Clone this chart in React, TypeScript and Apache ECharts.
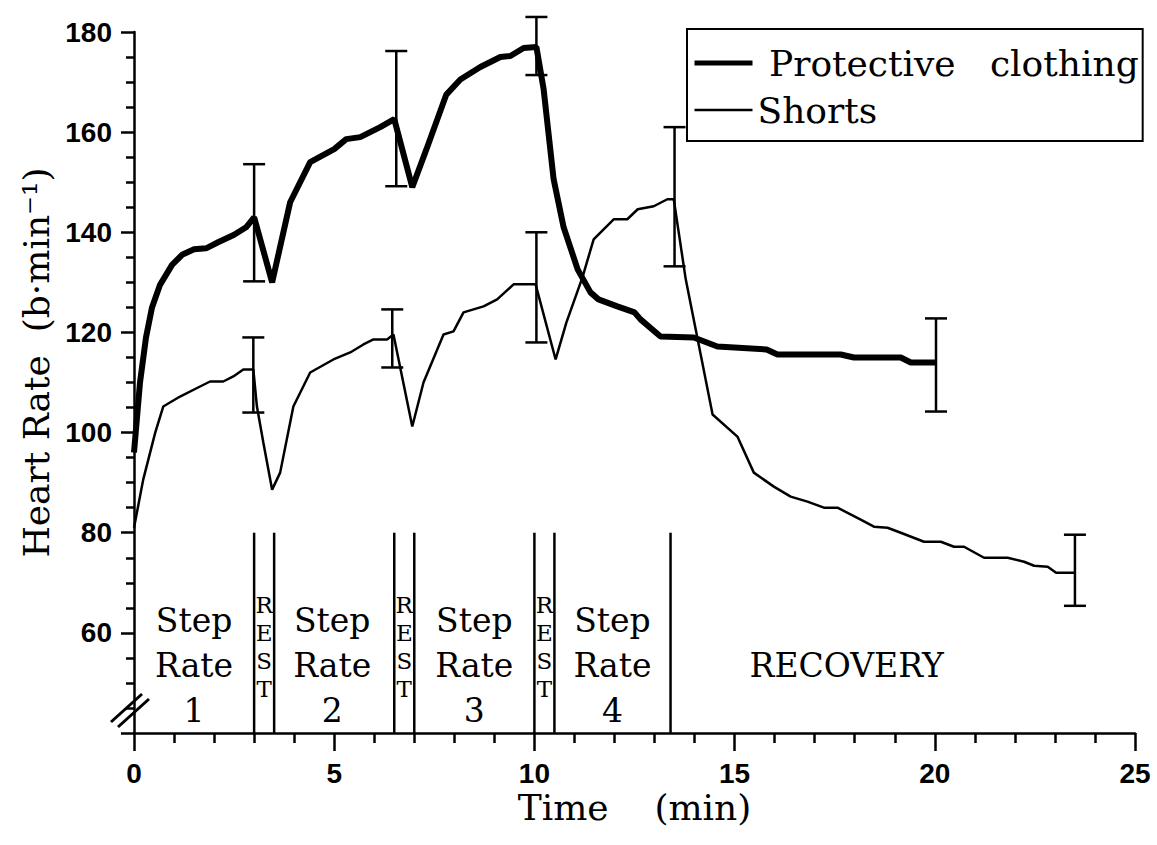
import React, { useEffect, useRef } from "react";
import * as echarts from "echarts";

// ---- data ----
const protTime = [0, 0.15, 0.3, 0.45, 0.65, 0.95, 1.2, 1.5, 1.8, 2.1, 2.5, 2.8, 3.0, 3.45, 3.9, 4.4, 5.0, 5.3, 5.65, 6.15, 6.5, 6.95, 7.3, 7.8, 8.15, 8.65, 9.15, 9.4, 9.73, 10.05, 10.23, 10.48, 10.73, 11.08, 11.4, 11.6, 12.07, 12.5, 12.65, 13.15, 13.98, 14.57, 15.8, 16.07, 17.65, 17.98, 19.15, 19.4, 20.03];
const protHR = [96, 110, 119, 125, 129.5, 133.5, 135.5, 136.6, 136.8, 138, 139.5, 141, 143, 130, 146, 154, 156.6, 158.6, 159, 161, 162.6, 149, 156.5, 167.5, 170.5, 173, 175, 175.2, 176.8, 177, 168.6, 150.6, 141, 132.6, 128, 126.6, 125.2, 124, 122.6, 119.2, 119, 117.2, 116.6, 115.6, 115.6, 115, 115, 114, 114];

const shortsTime = [0, 0.23, 0.53, 0.73, 1.15, 1.65, 1.9, 2.23, 2.48, 2.73, 2.98, 3.07, 3.23, 3.45, 3.65, 3.98, 4.4, 4.98, 5.4, 5.73, 5.98, 6.32, 6.48, 6.95, 7.23, 7.73, 7.98, 8.23, 8.73, 9.07, 9.48, 10.03, 10.53, 10.8, 11.2, 11.48, 11.98, 12.32, 12.58, 12.98, 13.32, 13.48, 13.78, 14.45, 15.07, 15.48, 15.98, 16.4, 16.82, 17.23, 17.57, 18.15, 18.48, 18.82, 19.15, 19.73, 20.15, 20.48, 20.73, 21.23, 21.82, 22.23, 22.48, 22.82, 23.03, 23.48];
const shortsHR = [81, 90.6, 100, 105.2, 107.2, 109.2, 110.2, 110.2, 111.2, 112.6, 112.6, 105.2, 98, 88.6, 92, 105.2, 112, 114.6, 116, 117.6, 118.6, 118.6, 119.6, 101.2, 110, 119.6, 120.2, 124, 125.2, 126.6, 129.6, 129.6, 114.6, 122, 131, 138.6, 142.6, 142.6, 144.6, 145.2, 146.6, 146.6, 130.6, 103.6, 99.2, 92, 89.2, 87.2, 86.2, 85, 85, 82.6, 81.2, 81, 80, 78.2, 78.2, 77.2, 77.2, 75, 75, 74.2, 73.4, 73.2, 72, 72];

// error bars: [time, low, high]
const protErr = [[3.0, 130.2, 153.6], [6.55, 149.2, 176.2], [10.05, 171.4, 183], [20.03, 104.2, 122.8]];
const shortsErr = [[2.98, 104, 119], [6.45, 113, 124.6], [10.05, 118, 140], [13.5, 133.2, 161], [23.5, 65.4, 79.6]];

// phase boundaries (min)
const phaseBounds = [3.0, 3.5, 6.5, 7.0, 10.0, 10.5, 13.4];
const phaseLineBottom = 40;
const phaseLineTop = 80;

// phase labels: [time, HR, text]
const stepLabels: [number, number, string][] = [
  [1.5, 53.4, "Step\nRate\n1"],
  [4.95, 53.4, "Step\nRate\n2"],
  [8.5, 53.4, "Step\nRate\n3"],
  [11.95, 53.4, "Step\nRate\n4"],
  [17.8, 53.4, "RECOVERY"],
];
const restLabels: [number, number, string][] = [
  [3.25, 57.2, "R\nE\nS\nT"],
  [6.75, 57.2, "R\nE\nS\nT"],
  [10.25, 57.2, "R\nE\nS\nT"],
];

const SERIF = "'DejaVu Serif', 'Liberation Serif', serif";
const SANS = "'Liberation Sans', Arial, sans-serif";

export default function App() {
  const ref = useRef<HTMLDivElement>(null);
  useEffect(() => {
    if (!ref.current) return;
    const chart = echarts.init(ref.current, null, { renderer: "svg" });

    const errRender = (params: any, api: any) => {
      const x = api.value(0);
      const lo = api.coord([x, api.value(1)]);
      const hi = api.coord([x, api.value(2)]);
      const hw = 11;
      const style = { stroke: "#000", lineWidth: 2.5, fill: "none" };
      return {
        type: "group",
        children: [
          { type: "line", shape: { x1: lo[0], y1: lo[1], x2: hi[0], y2: hi[1] }, style },
          { type: "line", shape: { x1: lo[0] - hw, y1: lo[1], x2: lo[0] + hw, y2: lo[1] }, style },
          { type: "line", shape: { x1: hi[0] - hw, y1: hi[1], x2: hi[0] + hw, y2: hi[1] }, style },
        ],
      };
    };

    const textRender = (fontSize: number, lineHeight: number) => (params: any, api: any) => {
      const p = api.coord([api.value(0), api.value(1)]);
      return {
        type: "text",
        x: p[0],
        y: p[1],
        style: {
          text: api.value(2),
          fontSize,
          fontFamily: SERIF,
          lineHeight,
          fill: "#000",
          align: "center",
          verticalAlign: "middle",
        },
      };
    };

    chart.setOption({
      animation: false,
      backgroundColor: "#fff",
      grid: { left: 134, right: 22, top: 32, bottom: 112, containLabel: false },
      legend: {
        left: 687,
        top: 29,
        orient: "vertical",
        borderColor: "#000",
        borderWidth: 2,
        padding: [16, 4, 13, 5],
        itemGap: 11,
        itemWidth: 58,
        itemHeight: 14,
        itemStyle: { opacity: 0 },
        data: [
          { name: "Protective clothing", lineStyle: { width: 5, color: "#000" } },
          { name: "Shorts", lineStyle: { width: 2.5, color: "#000" } },
        ],
        formatter: (n: string) => (n === "Protective clothing" ? " Protective   clothing" : n),
        textStyle: { fontFamily: SERIF, fontSize: 36, color: "#000" },
      },
      xAxis: {
        type: "value",
        min: 0,
        max: 25,
        interval: 5,
        name: "Time    (min)",
        nameLocation: "middle",
        nameGap: 56,
        nameMoveOverlap: false,
        nameTextStyle: { fontFamily: SERIF, fontSize: 36, color: "#000" },
        axisLine: { onZero: false, lineStyle: { color: "#000", width: 2.5 } },
        axisTick: { inside: false, length: 18, lineStyle: { color: "#000", width: 2.5 } },
        minorTick: { show: true, splitNumber: 5, length: 10, lineStyle: { color: "#000", width: 2.5 } },
        axisLabel: { fontFamily: SANS, fontWeight: "bold", fontSize: 28, color: "#000", margin: 26 },
        splitLine: { show: false },
      },
      yAxis: {
        type: "value",
        min: 40,
        max: 180,
        interval: 20,
        name: "Heart Rate  (b·min⁻¹)",
        nameLocation: "middle",
        nameGap: 80,
        nameTextStyle: { fontFamily: SERIF, fontSize: 36, color: "#000", padding: [0, 0, 0, 40] },
        axisLine: { onZero: false, lineStyle: { color: "#000", width: 2.5 } },
        axisTick: { inside: false, length: 13, lineStyle: { color: "#000", width: 2.5 } },
        minorTick: { show: true, splitNumber: 4, length: 8, lineStyle: { color: "#000", width: 2.5 } },
        axisLabel: {
          fontFamily: SANS, fontWeight: "bold", fontSize: 28, color: "#000", margin: 22,
          formatter: (v: number) => (v === 40 ? "" : String(v)),
        },
        splitLine: { show: false },
      },
      graphic: [
        { type: "line", shape: { x1: 111, y1: 722, x2: 142, y2: 694 }, style: { stroke: "#000", lineWidth: 3 } },
        { type: "line", shape: { x1: 118, y1: 727, x2: 149, y2: 699 }, style: { stroke: "#000", lineWidth: 3 } },
      ],
      series: [
        {
          name: "Protective clothing",
          type: "line",
          data: protTime.map((t, i) => [t, protHR[i]]),
          symbol: "none",
          lineStyle: { color: "#000", width: 6 },
          itemStyle: { color: "#000" },
          z: 5,
        },
        {
          name: "Shorts",
          type: "line",
          data: shortsTime.map((t, i) => [t, shortsHR[i]]),
          symbol: "none",
          lineStyle: { color: "#000", width: 2.5 },
          itemStyle: { color: "#000" },
          z: 5,
        },
        {
          type: "custom",
          name: "protErr",
          data: protErr,
          renderItem: errRender,
          clip: false,
          z: 6,
        },
        {
          type: "custom",
          name: "shortsErr",
          data: shortsErr,
          renderItem: errRender,
          clip: false,
          z: 6,
        },
        {
          type: "custom",
          name: "phases",
          data: phaseBounds.map((b) => [b, phaseLineBottom, phaseLineTop]),
          renderItem: (params: any, api: any) => {
            const x = api.value(0);
            const a = api.coord([x, api.value(1)]);
            const b = api.coord([x, api.value(2)]);
            return { type: "line", shape: { x1: a[0], y1: a[1], x2: b[0], y2: b[1] }, style: { stroke: "#000", lineWidth: 2.5 } };
          },
          z: 3,
        },
        {
          type: "custom",
          name: "stepLabels",
          data: stepLabels,
          renderItem: textRender(33, 45),
          z: 4,
        },
        {
          type: "custom",
          name: "restLabels",
          data: restLabels,
          renderItem: textRender(23, 28),
          z: 4,
        },
      ],
    });
    return () => chart.dispose();
  }, []);
  return <div ref={ref} style={{ position: "fixed", left: 0, top: 0, width: 1157, height: 845 }} />;
}
